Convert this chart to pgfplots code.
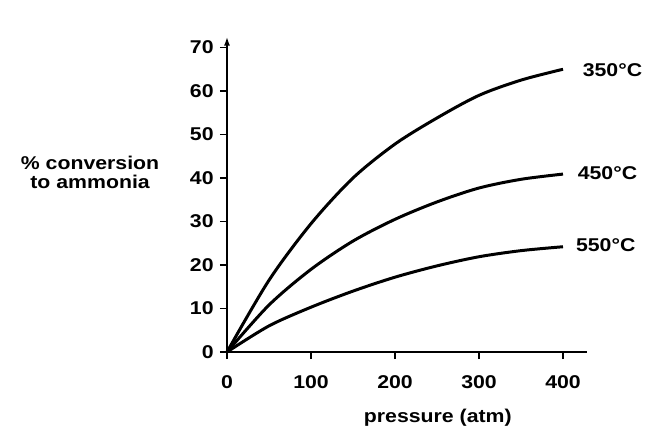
\documentclass[border=0pt]{standalone}
\usepackage{fontspec}
\setmainfont{Liberation Sans}[FakeStretch=1.15]
\usepackage{pgfplots}
\pgfplotsset{compat=1.18}
\usetikzlibrary{arrows.meta}
\begin{document}
\fontsize{18.5bp}{21bp}\selectfont\bfseries
\begin{tikzpicture}[x=1bp,y=1bp,
  curve/.style={black, line width=3pt, smooth, mark=none}]
\useasboundingbox (-227,-75) rectangle (425,352);
\begin{axis}[
  at={(0,0)}, anchor=origin,
  scale only axis,
  x=0.84bp, y=4.35bp,
  xmin=0, xmax=428, ymin=0, ymax=72.5,
  axis lines=left,
  axis line style={line width=2pt},
  x axis line style={-},
  y axis line style={-{Latex[length=9bp,width=6bp]}},
  xtick={0,100,200,300,400},
  ytick={0,10,...,70},
  tick align=outside,
  major tick length=7bp,
  tick style={line width=1.4pt, black},
  /pgf/number format/assume math mode=true,
  ticklabel style={font=\fontsize{18.5bp}{21bp}\selectfont\bfseries},
  xticklabel style={yshift=-10bp},
  clip=false,
]
% 350 C
\addplot[curve] coordinates {(0,0) (50,16.5) (100,29.5) (150,40.0) (200,47.8) (250,53.8) (300,59.0) (350,62.5) (400,65.0)};
% 450 C
\addplot[curve] coordinates {(0,0) (50,10.8) (100,19.0) (150,25.5) (200,30.5) (250,34.5) (300,37.7) (350,39.7) (400,40.9)};
% 550 C
\addplot[curve] coordinates {(0,0) (50,6.0) (100,10.3) (150,14.0) (200,17.2) (250,19.8) (300,21.9) (350,23.3) (400,24.2)};
\node[anchor=west] at (axis cs:416,64.8) {350°C};
\node[anchor=west] at (axis cs:410,41.2) {450°C};
\node[anchor=west] at (axis cs:408,24.6) {550°C};
\node at (axis cs:251,-15.2) {pressure (atm)};
\node[align=center] at (axis cs:-163,41.4) {\% conversion\\[-2bp]to ammonia};
\end{axis}
\end{tikzpicture}
\end{document}
